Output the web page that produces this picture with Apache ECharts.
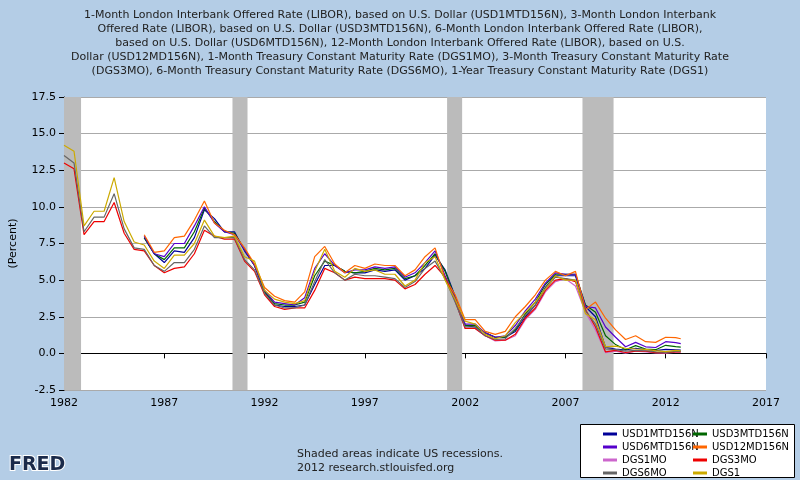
<!DOCTYPE html>
<html><head><meta charset="utf-8">
<script src="https://cdn.jsdelivr.net/npm/echarts@6/dist/echarts.min.js"></script>
<style>html,body{margin:0;padding:0;background:#b4cde6}#c{width:800px;height:480px}</style>
</head><body><div id="c"></div>
<script>
// half-year dates 1982.0 .. 2012.5, then 2012.75
const dates = [];
for (let i = 0; i <= 61; i++) dates.push(1982 + i / 2);
dates.push(2012.75);

const DGS3MO = [13.0,12.6,8.1,9.0,9.0,10.3,8.2,7.1,7.0,6.0,5.5,5.8,5.9,6.8,8.4,8.0,7.8,7.8,6.3,5.6,4.0,3.2,3.0,3.1,3.1,4.3,5.8,5.5,5.0,5.2,5.1,5.1,5.1,5.0,4.4,4.7,5.4,6.0,5.2,3.6,1.7,1.7,1.2,0.9,0.9,1.3,2.4,3.1,4.3,5.0,5.1,4.9,3.0,1.8,0.1,0.2,0.06,0.15,0.15,0.05,0.05,0.1,0.1];
const DGS6MO = [13.5,13.0,8.3,9.3,9.3,10.9,8.5,7.2,7.1,6.0,5.6,6.2,6.2,7.1,8.7,7.9,7.9,7.9,6.4,5.7,4.1,3.3,3.1,3.1,3.3,4.9,6.4,5.5,5.0,5.4,5.3,5.3,5.2,5.1,4.5,4.9,5.8,6.3,5.1,3.5,1.8,1.8,1.2,0.95,1.0,1.7,2.6,3.3,4.4,5.2,5.1,5.0,2.9,2.0,0.3,0.25,0.15,0.2,0.18,0.1,0.07,0.14,0.13];
const DGS1 = [14.2,13.8,8.7,9.7,9.7,12.0,9.0,7.6,7.4,6.3,5.8,6.7,6.7,7.5,9.1,8.0,7.9,8.0,6.6,6.3,4.3,3.7,3.5,3.4,3.6,5.6,7.1,5.6,5.2,5.8,5.6,5.7,5.4,5.4,4.6,5.0,6.2,6.6,5.0,3.7,2.2,2.0,1.3,1.0,1.2,2.1,2.8,3.5,4.4,5.3,5.0,5.0,2.7,2.3,0.45,0.5,0.35,0.3,0.27,0.19,0.12,0.2,0.18];
// starts mid 2001
const DGS1MO = [3.6,1.7,1.7,1.2,0.85,0.9,1.2,2.3,3.0,4.2,4.9,5.1,4.6,2.8,1.6,0.05,0.15,0.02,0.15,0.1,0.03,0.02,0.08,0.08];
// LIBOR series start 1986
const USD1M = [7.9,6.8,6.2,7.0,6.9,7.9,9.8,9.2,8.3,8.3,7.0,6.0,4.2,3.3,3.2,3.2,3.3,4.7,6.0,6.0,5.6,5.5,5.5,5.7,5.6,5.7,5.0,5.3,5.8,6.7,5.7,3.9,1.9,1.8,1.4,1.1,1.1,1.5,2.5,3.3,4.5,5.3,5.3,5.3,3.2,2.5,0.4,0.3,0.23,0.35,0.26,0.19,0.27,0.24,0.22];
const USD3M = [7.9,6.8,6.4,7.2,7.2,8.3,9.9,9.0,8.3,8.2,7.1,6.0,4.2,3.4,3.3,3.3,3.5,5.3,6.3,6.0,5.6,5.5,5.6,5.8,5.7,5.8,5.1,5.3,6.0,6.8,5.6,3.8,1.9,1.9,1.4,1.1,1.1,1.6,2.7,3.5,4.7,5.4,5.4,5.4,3.3,2.8,1.2,0.6,0.25,0.53,0.3,0.25,0.55,0.46,0.43];
const USD6M = [8.0,6.8,6.6,7.5,7.5,8.7,10.0,8.9,8.3,8.1,7.1,6.0,4.3,3.5,3.4,3.3,3.8,5.8,6.8,6.0,5.5,5.7,5.7,5.9,5.8,5.9,5.2,5.5,6.2,7.0,5.3,3.8,2.0,2.0,1.4,1.1,1.2,1.9,2.9,3.7,4.8,5.5,5.4,5.4,3.2,3.1,1.8,1.1,0.45,0.75,0.45,0.4,0.8,0.73,0.67];
const USD12M = [8.1,6.9,7.0,7.9,8.0,9.1,10.4,8.9,8.4,8.1,7.2,6.1,4.5,3.9,3.6,3.5,4.2,6.6,7.3,6.1,5.5,6.0,5.8,6.1,6.0,6.0,5.3,5.7,6.6,7.2,5.1,4.0,2.3,2.3,1.5,1.3,1.5,2.5,3.2,4.0,5.0,5.6,5.3,5.6,3.0,3.5,2.4,1.6,0.95,1.2,0.8,0.75,1.1,1.07,1.0];

const recessions = [[1982, 1982.85], [1990.4, 1991.15], [2001.1, 2001.85], [2007.85, 2009.4]];

const titleText = '1-Month London Interbank Offered Rate (LIBOR), based on U.S. Dollar (USD1MTD156N), 3-Month London Interbank\nOffered Rate (LIBOR), based on U.S. Dollar (USD3MTD156N), 6-Month London Interbank Offered Rate (LIBOR),\nbased on U.S. Dollar (USD6MTD156N), 12-Month London Interbank Offered Rate (LIBOR), based on U.S.\nDollar (USD12MD156N), 1-Month Treasury Constant Maturity Rate (DGS1MO), 3-Month Treasury Constant Maturity Rate\n(DGS3MO), 6-Month Treasury Constant Maturity Rate (DGS6MO), 1-Year Treasury Constant Maturity Rate (DGS1)';

function pairs(vals) {
    const off = dates.length - vals.length;
    return vals.map((v, i) => [dates[i + off], v]);
}

const defs = [
    ['USD1MTD156N', USD1M, '#000099'],
    ['USD3MTD156N', USD3M, '#006600'],
    ['USD6MTD156N', USD6M, '#5500cc'],
    ['USD12MD156N', USD12M, '#ff6600'],
    ['DGS1MO', DGS1MO, '#cc66cc'],
    ['DGS3MO', DGS3MO, '#ee0000'],
    ['DGS6MO', DGS6MO, '#666666'],
    ['DGS1', DGS1, '#ccaa00']
];

const series = defs.map((d, i) => ({
    name: d[0], type: 'line', data: pairs(d[1]), symbol: 'none',
    lineStyle: { width: 1.2, color: d[2] }, itemStyle: { color: d[2] },
    z: 3
}));
series[0].markArea = {
    silent: true, itemStyle: { color: '#bbbbbb' },
    data: recessions.map(r => [{ xAxis: r[0] }, { xAxis: r[1] }])
};

const legendBase = {
    orient: 'vertical', top: 429, itemGap: 3,
    itemWidth: 14, itemHeight: 3, icon: 'rect', padding: 0,
    textStyle: { fontSize: 10, color: '#000', fontFamily: 'DejaVu Sans' }
};

const chart = echarts.init(document.getElementById('c'));
chart.setOption({
    backgroundColor: '#b4cde6',
    animation: false,
    title: {
        text: titleText, left: 'center', top: 3,
        textStyle: { fontSize: 11, fontWeight: 'normal', color: '#222', lineHeight: 14, fontFamily: 'DejaVu Sans' }
    },
    grid: { left: 62, right: 34, top: 97, bottom: 90, show: true, backgroundColor: '#fff', borderWidth: 0 },
    xAxis: {
        type: 'value', min: 1982, max: 2017, interval: 5,
        axisLine: { lineStyle: { color: '#000' } },
        axisTick: { lineStyle: { color: '#000' } },
        axisLabel: { color: '#000', fontSize: 11, fontFamily: 'DejaVu Sans', formatter: v => String(v) },
        splitLine: { show: false }
    },
    yAxis: {
        type: 'value', min: -2.5, max: 17.5, interval: 2.5,
        name: '(Percent)', nameLocation: 'middle', nameGap: 45,
        nameTextStyle: { color: '#000', fontSize: 11, fontFamily: 'DejaVu Sans' },
        axisLine: { show: true, lineStyle: { color: '#000' } },
        axisTick: { show: true, lineStyle: { color: '#000' } },
        axisLabel: { color: '#000', fontSize: 11, fontFamily: 'DejaVu Sans', formatter: v => v.toFixed(1) },
        splitLine: { lineStyle: { color: '#aaaaaa' } }
    },
    legend: [
        Object.assign({}, legendBase, { left: 603, data: ['USD1MTD156N', 'USD6MTD156N', 'DGS1MO', 'DGS6MO'] }),
        Object.assign({}, legendBase, { left: 693, data: ['USD3MTD156N', 'USD12MD156N', 'DGS3MO', 'DGS1'] })
    ],
    graphic: [
        { type: 'rect', left: 580, top: 424, z: -1, shape: { width: 214, height: 53 }, style: { fill: '#fff', stroke: '#000', lineWidth: 1 } },
        { type: 'text', left: 'center', top: 447, style: { text: 'Shaded areas indicate US recessions.\n2012 research.stlouisfed.org', fontSize: 11, fill: '#222', align: 'center', lineHeight: 14, fontFamily: 'DejaVu Sans' } },
        { type: 'text', left: 8, top: 455, style: { text: 'FRED', fontSize: 19, fontWeight: 'bold', fill: '#1a2a4a', stroke: '#fff', lineWidth: 2, fontFamily: 'DejaVu Sans' } }
    ],
    series: series
});
</script>
</body></html>
